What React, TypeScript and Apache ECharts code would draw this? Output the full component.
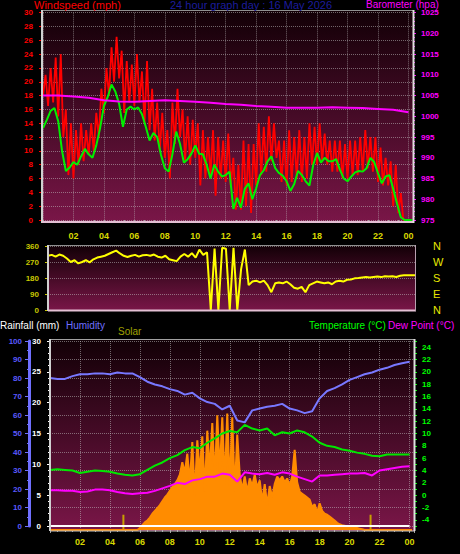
import React, { useEffect, useRef } from 'react';
import * as echarts from 'echarts';

// ---- data ----
// wind gust (mph), every 10 minutes from 00:00
const windGust = [
  18, 21, 16.5, 22, 17, 23.5,
  15, 24, 12, 16, 6.5, 14,
  6, 13, 8, 14, 8.5, 13,
  9.5, 14, 10, 15.5, 12, 19,
  15.5, 22, 18, 25, 20, 26.5,
  20.5, 24.5, 15.5, 23, 17, 22.5,
  16.5, 24, 17, 21.5, 14, 23,
  13, 19, 11.5, 17, 10, 15.5,
  9, 13, 6, 17, 11, 19,
  12, 16, 8.5, 15, 8, 14.5,
  9, 14, 5, 13, 6, 12,
  6.5, 13, 3.5, 12, 6, 11.5,
  5.5, 12.5, 5, 9, 1.5, 8,
  1.5, 11.5, 2, 11, 1, 11,
  5, 14, 6.5, 13.5, 7, 15,
  8.5, 14, 9, 11.5, 5.5, 11.5,
  5, 13, 5.5, 12, 6, 13,
  5.5, 12, 6, 14, 8, 13.5,
  8, 14, 8.5, 12.5, 8, 11.5,
  7, 11.5, 7, 11.5, 6, 11,
  6, 11.5, 6.5, 11.5, 6.5, 12,
  7, 13, 7.5, 12, 7, 12,
  5.5, 10.5, 5, 9, 5, 8.5,
  2, 8, 1, 3.9, 0, 0,
  0, 0,
];
// average wind speed (mph), every 15 minutes
const windAvg = [
  13.3, 14.5, 15.8, 16.2,
  14.3, 10, 7.1, 7.6,
  8.4, 8.0, 9.2, 10.3,
  9.5, 9.0, 10.8, 13.3,
  16.5, 17.8, 19.6, 18.6,
  16.8, 13.5, 16.0, 16.4,
  16.0, 16.3, 15.3, 13.5,
  11.5, 12.6, 12.0, 9.4,
  7.5, 7.0, 9.5, 12.8,
  11.0, 8.3, 8.8, 9.6,
  10.8, 9.6, 9.5, 8.0,
  6.0, 8.0, 7.0, 6.3,
  6.5, 7.0, 1.6, 3.2,
  1.8, 4.5, 5.3, 3.0,
  4.6, 6.5, 7.2, 8.5,
  9.2, 7.5, 6.8, 6.4,
  5.6, 4.2, 5.2, 7.1,
  6.5, 5.6, 5.0, 8.0,
  9.7, 8.3, 9.0, 8.5,
  8.5, 8.8, 7.3, 6.0,
  5.6, 6.3, 6.9, 7.1,
  7.0, 7.5, 9.0, 8.4,
  6.8, 5.3, 6.3, 6.5,
  4.5, 2.4, 0.4, 0,
  0, 0,
];
// barometer (hPa), hourly
const baro = [
  1005.0, 1005.0, 1004.8, 1004.5, 1003.9, 1003.6, 1003.5, 1003.7, 1003.9, 1003.7,
  1003.5, 1003.3, 1003.0, 1002.8, 1002.5, 1002.3, 1002.1, 1002.1, 1002.1, 1002.2,
  1002.1, 1002.0, 1001.8, 1001.6, 1001.0,
];
// wind direction (degrees), every 15 minutes
const windDir = [
  305, 310, 300, 312,
  305, 290, 270, 280,
  262, 270, 280, 268,
  285, 295, 300, 305,
  315, 325, 334, 318,
  305, 298, 305, 310,
  300, 308, 310, 305,
  312, 300, 295, 305,
  285, 280, 275, 300,
  315, 300, 320, 295,
  340, 310, 325, 0,
  345, 0, 350, 345,
  0, 350, 0, 230,
  340, 140, 160, 165,
  155, 165, 140, 100,
  150, 155, 150, 160,
  145, 125, 120, 130,
  100, 140, 150, 160,
  155, 150, 155, 145,
  160, 165, 160, 170,
  172, 178, 180, 183,
  185, 183, 186, 188,
  185, 190, 188, 190,
  186, 193, 195, 195,
  195, 195,
];
// humidity (%), every 30 minutes
const humidity = [
  80, 79.5, 79.5, 81, 82, 82, 82.5, 82.5, 82, 83,
  82.5, 82.5, 80.5, 78, 76.5, 75.5, 74, 73, 71, 72,
  69, 67, 66, 63, 65, 57, 56, 62.5, 63.5, 64.5,
  65, 66, 63.5, 62.5, 61, 62, 69, 73, 74.5, 76.5,
  79, 80.5, 82, 83, 84.5, 85.5, 87, 88, 88.8,
];
// temperature (°C), every 30 minutes
const temperature = [
  4.1, 4.2, 4.1, 4.0, 3.6, 3.8, 4.0, 3.9, 3.8, 3.5,
  3.3, 3.2, 3.4, 4.1, 4.8, 5.3, 6.0, 6.5, 7.3, 7.8,
  7.6, 8.5, 9.2, 10.0, 10.4, 10.2, 11.4, 10.8, 10.5, 10.8,
  9.7, 10.2, 10.0, 10.5, 10.2, 9.5, 8.5, 8.0, 7.8, 7.4,
  7.2, 6.9, 6.7, 6.4, 6.3, 6.6, 6.6, 6.6, 6.6,
];
// dew point (°C), every 30 minutes
const dewPoint = [
  0.8, 0.8, 0.7, 0.7, 0.5, 0.6, 0.9, 0.9, 0.8, 0.5,
  0.3, 0.2, 0.3, 0.4, 0.7, 1.1, 1.5, 2.0, 1.8, 2.4,
  2.6, 3.0, 3.0, 3.5, 3.3, 2.2, 3.7, 3.5, 3.4, 3.6,
  3.3, 3.7, 3.5, 3.0, 2.6, 2.2, 3.2, 3.2, 3.3, 3.4,
  3.5, 3.5, 3.6, 3.2, 4.0, 4.2, 4.4, 4.6, 4.7,
];
// rainfall (mm), hourly
const rainfall = [
  0, 0, 0, 0, 0, 0, 0, 0, 0, 0, 0, 0, 0, 0, 0, 0, 0, 0, 0, 0, 0, 0, 0, 0, 0,
];
// solar radiation (W/m²), every 10 minutes
const solar = [
  0, 0, 0, 0, 0, 0,
  0, 0, 0, 0, 0, 0,
  0, 0, 0, 0, 0, 0,
  0, 0, 0, 0, 0, 0,
  0, 0, 0, 0, 0, 0,
  0, 0, 0, 0, 0, 0,
  10, 25, 40, 50, 65, 85,
  100, 115, 130, 150, 170, 185,
  205, 225, 240, 260, 290, 355,
  300, 400, 250, 460, 180, 470,
  300, 490, 200, 520, 310, 560,
  260, 600, 300, 590, 240, 610,
  230, 590, 200, 500, 290, 210,
  280, 200, 270, 230, 290, 220,
  260, 150, 240, 130, 230, 170,
  240, 280, 260, 280, 250, 270,
  230, 280, 420, 250, 200, 190,
  180, 170, 160, 120, 135, 90,
  140, 100, 85, 80, 70, 60,
  50, 38, 30, 25, 22, 18,
  15, 14, 12, 10, 7, 4,
  0, 0, 0, 0, 0, 0,
  0, 0, 0, 0, 0, 0,
  0, 0, 0, 0, 0, 0,
  0, 0,
];
const solarMarkHours = [4.9, 21.4];
const solarMarkValues = [80, 80];
const compassLabels = ['N', 'E', 'S', 'W', 'N'];

const toXY = (vals: number[], stepHours: number) =>
  vals.map((v, i) => [Math.round(i * stepHours * 10000) / 10000, v]);

const FONT = 'Liberation Sans';
const X_MAX = 24.3;

const hourFmt = (v: number) => {
  const r = Math.round(v);
  if (Math.abs(v - r) > 1e-6 || r === 0 || r % 2 !== 0) return '';
  const hh = r % 24;
  return hh < 10 ? '0' + hh : '' + hh;
};
const plainFmt = (v: number) => String(Math.round(v));

const bg = () =>
  new echarts.graphic.LinearGradient(0, 0, 0, 1, [
    { offset: 0, color: '#120006' },
    { offset: 1, color: '#7a1648' },
  ]);

const gridLine = { show: true, lineStyle: { color: 'rgba(200,200,200,0.5)', type: 'dotted' as const, width: 1 } };

const tickLabel = (color: string, margin: number, extra: any = {}) => ({
  color,
  fontSize: 8,
  fontWeight: 'bold' as const,
  fontFamily: FONT,
  margin,
  formatter: plainFmt,
  ...extra,
});

const line = (x1: number, y1: number, x2: number, y2: number, stroke: string, lineWidth: number) => ({
  type: 'line',
  shape: { x1, y1, x2, y2 },
  style: { stroke, lineWidth },
  z: 50,
  silent: true,
});

const text = (t: string, x: number, y: number, fill: string, size: number) => ({
  type: 'text',
  x,
  y,
  style: { text: t, fill, font: `${size}px "${FONT}"`, verticalAlign: 'top', textVerticalAlign: 'top' },
  z: 100,
  silent: true,
});

export default function App() {
  const ref = useRef<HTMLDivElement>(null);
  useEffect(() => {
    if (!ref.current) return;
    const chart = echarts.init(ref.current, undefined, { renderer: 'svg' });
    const option: any = {
      animation: false,
      backgroundColor: '#000000',
      textStyle: { fontFamily: FONT },
      grid: [
        { left: 43, top: 12.7, width: 370, height: 207.3, outerBoundsMode: 'none' },
        { left: 48, top: 246, width: 368, height: 64, outerBoundsMode: 'none' },
        { left: 50, top: 341, width: 364, height: 185, outerBoundsMode: 'none' },
        { left: 50, top: 339, width: 364, height: 191, outerBoundsMode: 'none' },
      ],
      xAxis: [
        {
          gridIndex: 0, type: 'value', min: 0, max: X_MAX, interval: 2, offset: 3,
          axisLine: { show: false },
          axisTick: { show: true, length: 3, lineStyle: { color: '#a0a0a0' } },
          minorTick: { show: true, splitNumber: 3, length: 2, lineStyle: { color: '#a0a0a0' } },
          axisLabel: tickLabel('#d8d800', 8, { fontSize: 9, formatter: hourFmt, showMaxLabel: false }),
          splitLine: gridLine,
        },
        { gridIndex: 1, type: 'value', min: 0, max: X_MAX, show: false },
        { gridIndex: 2, type: 'value', min: 0, max: X_MAX, show: false },
        {
          gridIndex: 3, type: 'value', min: 0, max: X_MAX, interval: 2,
          axisLine: { show: false },
          axisTick: { show: true, length: 3, lineStyle: { color: '#a0a0a0' } },
          minorTick: { show: true, splitNumber: 4, length: 2, lineStyle: { color: '#a0a0a0' } },
          axisLabel: tickLabel('#d8d800', 7, { fontSize: 9, formatter: hourFmt, showMaxLabel: false }),
          splitLine: gridLine,
        },
      ],
      yAxis: [
        {
          gridIndex: 0, type: 'value', position: 'left', min: 0, max: 30, interval: 2,
          axisLine: { show: false },
          axisTick: { show: true, length: 4, lineStyle: { color: '#ff0000' } },
          minorTick: { show: true, splitNumber: 2, length: 2, lineStyle: { color: '#ff0000' } },
          axisLabel: tickLabel('#ff0000', 10),
          splitLine: gridLine,
        },
        {
          gridIndex: 0, type: 'value', position: 'right', min: 975, max: 1025, interval: 5,
          axisLine: { show: false },
          axisTick: { show: true, length: 3, lineStyle: { color: '#ff00ff' } },
          minorTick: { show: true, splitNumber: 5, length: 2, lineStyle: { color: '#ff00ff' } },
          axisLabel: tickLabel('#ff00ff', 8),
          splitLine: { show: false },
        },
        {
          gridIndex: 1, type: 'value', position: 'left', min: 0, max: 360, interval: 90,
          axisLine: { show: false },
          axisTick: { show: true, length: 3, lineStyle: { color: '#c8c800' } },
          axisLabel: tickLabel('#c8c800', 9),
          splitLine: gridLine,
        },
        {
          gridIndex: 1, type: 'value', position: 'right', min: 0, max: 360, interval: 90,
          axisLine: { show: false }, axisTick: { show: false }, splitLine: { show: false },
          axisLabel: {
            color: '#e8e800', fontSize: 11, fontFamily: FONT, margin: 17,
            formatter: (v: number) => compassLabels[Math.round(v / 90)] ?? '',
          },
        },
        {
          gridIndex: 2, type: 'value', position: 'left', min: 0, max: 30, interval: 5,
          axisLine: { show: false },
          axisTick: { show: true, length: 3, lineStyle: { color: '#ffffff' } },
          minorTick: { show: true, splitNumber: 5, length: 2, lineStyle: { color: '#ffffff' } },
          axisLabel: tickLabel('#ffffff', 9),
          splitLine: { show: false },
        },
        {
          gridIndex: 2, type: 'value', position: 'left', offset: 21, min: 0, max: 100, interval: 10,
          axisLine: { show: true, lineStyle: { color: '#7070ff', width: 3 } },
          axisTick: { show: true, length: 4, lineStyle: { color: '#7070ff' } },
          minorTick: { show: true, splitNumber: 2, length: 2, lineStyle: { color: '#7070ff' } },
          axisLabel: tickLabel('#5a5aff', 7),
          splitLine: gridLine,
        },
        {
          gridIndex: 2, type: 'value', position: 'right', min: -5, max: 25, interval: 1,
          axisLine: { show: false },
          axisTick: { show: true, length: 3, lineStyle: { color: '#00ff00' } },
          axisLabel: tickLabel('#00ff00', 8, {
            formatter: (v: number) => (Math.round(v) % 2 === 0 ? String(Math.round(v)) : ''),
          }),
          splitLine: { show: false },
        },
        { gridIndex: 3, type: 'value', min: 0, max: 1000, show: false },
      ],
      graphic: [
        { type: 'rect', shape: { x: 42, y: 10, width: 372, height: 213 }, style: { fill: bg() }, z: -10, silent: true },
        { type: 'rect', shape: { x: 48, y: 245, width: 368, height: 66 }, style: { fill: bg() }, z: -10, silent: true },
        { type: 'rect', shape: { x: 50, y: 339, width: 364, height: 192 }, style: { fill: bg() }, z: -10, silent: true },
        // panel 1 borders
        line(42, 10.5, 414, 10.5, '#909090', 1),
        line(42, 10, 42, 223, '#d0d0d0', 2),
        line(42, 222, 414, 222, '#e4c0d4', 2),
        line(413.5, 10, 413.5, 223, '#e0e0e0', 2),
        // panel 2 borders
        line(48, 245.5, 416, 245.5, '#909090', 1),
        line(48, 245, 48, 311, '#d0d0d0', 2),
        line(48, 310.5, 416, 310.5, '#e4c0d4', 2),
        line(415.5, 245, 415.5, 311, '#b8a0b0', 1),
        // panel 3 borders
        line(50, 339.5, 414, 339.5, '#a0a0a0', 1),
        line(50, 339, 50, 531, '#d0d0d0', 2),
        line(50, 531, 415, 531, '#c8c8c8', 1),
        line(414.5, 339, 414.5, 531, '#e0e0e0', 2),
        // titles
        text('Windspeed (mph)', 34, -1, '#ff0000', 11),
        text('24 hour graph day : 16 May 2026', 170, -1, '#1c1c9c', 11),
        text('Barometer (hpa)', 366, -1, '#ff00ff', 10),
        text('Rainfall (mm)', 0, 320, '#ffffff', 10),
        text('Humidity', 66, 320, '#7070ff', 10),
        text('Solar', 118, 326, '#a0a000', 10),
        text('Temperature (°C)', 309, 320, '#00ff00', 10),
        text('Dew Point (°C)', 388, 320, '#ff00ff', 10),
      ],
      series: [
        {
          name: 'Wind gust', type: 'line', xAxisIndex: 0, yAxisIndex: 0, data: toXY(windGust, 1 / 6),
          showSymbol: false, silent: true, z: 2, lineStyle: { color: '#ff0000', width: 1.8 },
        },
        {
          name: 'Wind speed', type: 'line', xAxisIndex: 0, yAxisIndex: 0, data: toXY(windAvg, 0.25),
          showSymbol: false, silent: true, z: 3, lineStyle: { color: '#00f000', width: 2 },
        },
        {
          name: 'Barometer', type: 'line', xAxisIndex: 0, yAxisIndex: 1, data: toXY(baro, 1),
          showSymbol: false, silent: true, z: 4, lineStyle: { color: '#ff00ff', width: 2 },
        },
        {
          name: 'Wind direction', type: 'line', xAxisIndex: 1, yAxisIndex: 2, data: toXY(windDir, 0.25),
          showSymbol: false, silent: true, z: 3, lineStyle: { color: '#ffff00', width: 2 },
        },
        {
          name: 'Solar', type: 'line', xAxisIndex: 3, yAxisIndex: 7, data: toXY(solar, 1 / 6),
          showSymbol: false, silent: true, z: 1,
          lineStyle: { color: '#ff8c00', width: 2 },
          areaStyle: { color: '#ff8c00', opacity: 1 },
        },
        {
          name: 'Solar marks', type: 'bar', xAxisIndex: 3, yAxisIndex: 7, barWidth: 2, silent: true, z: 1,
          data: solarMarkHours.map((h, i) => [h, solarMarkValues[i]]),
          itemStyle: { color: '#c8a000' },
        },
        {
          name: 'Rainfall', type: 'line', xAxisIndex: 2, yAxisIndex: 4, data: toXY(rainfall, 1),
          showSymbol: false, silent: true, z: 5, lineStyle: { color: '#ffffff', width: 2 },
        },
        {
          name: 'Humidity', type: 'line', xAxisIndex: 2, yAxisIndex: 5, data: toXY(humidity, 0.5),
          showSymbol: false, silent: true, z: 4, lineStyle: { color: '#7878ff', width: 2 },
        },
        {
          name: 'Temperature', type: 'line', xAxisIndex: 2, yAxisIndex: 6, data: toXY(temperature, 0.5),
          showSymbol: false, silent: true, z: 4, lineStyle: { color: '#00e800', width: 2 },
        },
        {
          name: 'Dew Point', type: 'line', xAxisIndex: 2, yAxisIndex: 6, data: toXY(dewPoint, 0.5),
          showSymbol: false, silent: true, z: 4, lineStyle: { color: '#ff00ff', width: 2 },
        },
      ],
    };
    chart.setOption(option);
    return () => chart.dispose();
  }, []);
  return (
    <div
      ref={ref}
      style={{ position: 'fixed', left: 0, top: 0, width: 460, height: 554, background: '#000' }}
    />
  );
}
